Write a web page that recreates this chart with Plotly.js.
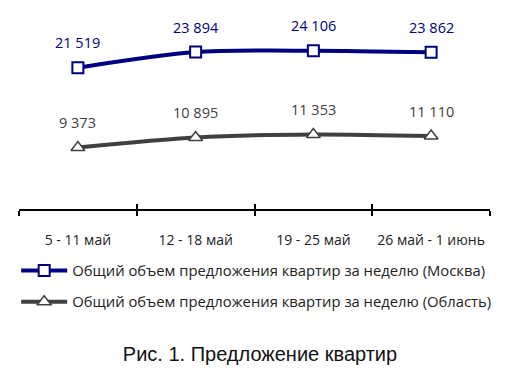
<!DOCTYPE html>
<html><head><meta charset="utf-8">
<script src="https://cdn.plot.ly/plotly-3.0.1.min.js"></script>
<style>body{margin:0;background:#fff}#c{width:520px;height:378px}</style>
</head><body><div id="c"></div>
<script>
const categories = ["5 - 11 май", "12 - 18 май", "19 - 25 май", "26 май - 1 июнь"];
const moscow = [21519, 23894, 24106, 23862];
const oblast = [9373, 10895, 11353, 11110];
const seriesNames = ["Общий объем предложения квартир за неделю (Москва)", "Общий объем предложения квартир за неделю (Область)"];

const fmt = v => String(v).replace(/\B(?=(\d{3})+(?!\d))/g, " ");
const FONT = "Open Sans, sans-serif";
const navy = "#000080", gray = "#404040";

const traces = [
  {x: categories, y: moscow, name: seriesNames[0], legendgroup: "a", type: "scatter", mode: "lines+markers",
   line: {color: navy, width: 4, shape: "spline", smoothing: 0.8},
   marker: {symbol: "square", size: 11, color: "#fff", line: {color: navy, width: 2}}},
  {x: categories, y: oblast, name: seriesNames[1], legendgroup: "b", type: "scatter", mode: "lines+markers",
   line: {color: gray, width: 4, shape: "spline", smoothing: 0.8},
   marker: {symbol: "triangle-up", size: 12, color: "#fff", line: {color: gray, width: 1.5}}},
  {x: categories, y: moscow, xaxis: "x2", type: "scatter", mode: "none", showlegend: false, hoverinfo: "skip"}
];

const annotations = [];
categories.forEach((c, i) => {
  annotations.push({x: c, y: moscow[i], text: fmt(moscow[i]), showarrow: false, yshift: 25, yanchor: "middle",
    font: {family: FONT, size: 14.5, color: navy}});
  annotations.push({x: c, y: oblast[i], text: fmt(oblast[i]), showarrow: false, yshift: 25, yanchor: "middle",
    font: {family: FONT, size: 14.5, color: gray}});
});

const layout = {
  width: 520, height: 378,
  margin: {l: 19, r: 30, t: 12, b: 169},
  paper_bgcolor: "#fff", plot_bgcolor: "#fff",
  font: {family: FONT, size: 13, color: "#222"},
  title: {text: "Рис. 1. Предложение квартир", x: 0.5, xanchor: "center", y: 0.063, yanchor: "middle",
    font: {family: "Liberation Sans, Arial, sans-serif", size: 20, color: "#111"}},
  xaxis: {type: "category", range: [-0.5, 3.5], showline: true, linecolor: "#000", linewidth: 2,
    ticks: "outside", tickson: "boundaries", ticklen: 5, tickwidth: 2, tickcolor: "#000",
    showgrid: false, zeroline: false, fixedrange: true, ticklabelstandoff: 17, tickangle: 0,
    tickfont: {family: FONT, size: 14, color: "#222"}},
  xaxis2: {type: "category", overlaying: "x", anchor: "y", side: "bottom", range: [-0.5, 3.5],
    ticks: "inside", tickson: "boundaries", ticklen: 5, tickwidth: 2, tickcolor: "#000",
    showticklabels: false, showgrid: false, zeroline: false, showline: false},
  yaxis: {range: [0, 30000], visible: false, fixedrange: true},
  showlegend: true,
  legend: {orientation: "v", x: -0.006, xanchor: "left", y: -0.23, yanchor: "top",
    font: {family: FONT, size: 14.8, color: "#222"}, tracegroupgap: 9, traceorder: "grouped", itemwidth: 46},
  annotations: annotations
};

Plotly.newPlot("c", traces, layout, {displayModeBar: false, staticPlot: true});
</script></body></html>
